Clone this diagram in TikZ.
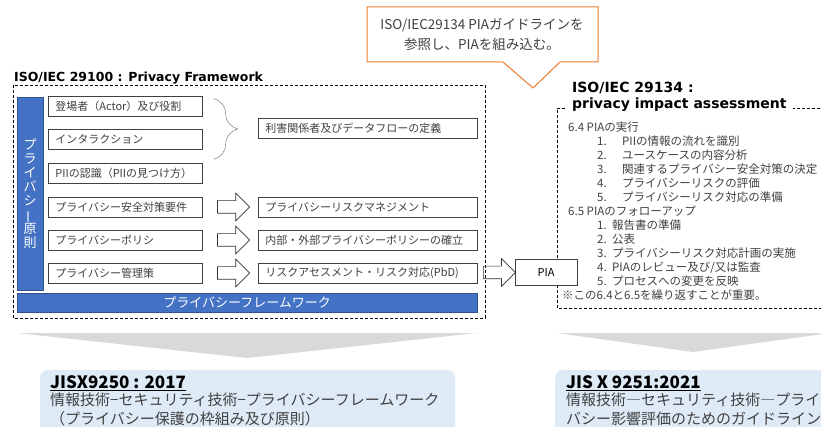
\documentclass[tikz,border=0pt]{standalone}
\usepackage{fontspec}
\setmainfont{Noto Sans CJK JP}
\newfontfamily\titlefont{DejaVu Sans}
\usetikzlibrary{calc,shapes.arrows,decorations.pathreplacing}
\definecolor{pblue}{HTML}{4472C4}
\definecolor{pbdark}{HTML}{2F528F}
\definecolor{porange}{HTML}{ED7D31}
\definecolor{plight}{HTML}{DEEBF7}
\definecolor{ptext}{HTML}{404040}
\newcommand{\lia}[2]{\hspace*{29pt}\makebox[25pt][l]{#1}#2}
\newcommand{\lib}[2]{\hspace*{29pt}\makebox[15pt][l]{#1}#2}
\tikzstyle{lb} = [rectangle,draw=black!75,line width=0.7pt,fill=white,anchor=west,minimum height=20pt,text width=140pt,align=left,inner xsep=7pt,inner ysep=0pt,text=ptext,font=\fontsize{11}{13}\selectfont]
\tikzstyle{rb} = [lb,text width=205pt]
\tikzstyle{ba} = [single arrow,draw=black!80,line width=0.7pt,fill=white,minimum height=32pt,inner xsep=0pt,inner ysep=6pt,single arrow head extend=7.5pt]
\tikzstyle{jt} = [anchor=west,inner sep=0pt,font=\bfseries\fontsize{17}{20}\selectfont]
\tikzstyle{jl} = [anchor=north west,inner sep=0pt,align=left,text=ptext,font=\fontsize{15}{19}\selectfont]

\begin{document}
\begin{tikzpicture}[x=1pt,y=-1pt]
  \useasboundingbox (0,0) rectangle (821,427);
  % ISO/IEC 29100
  \draw[densely dashed,line width=0.9pt] (13,85) rectangle (485,318);
  \node[anchor=west,inner sep=0pt,font=\titlefont\bfseries\fontsize{12.5}{14}\selectfont] (fw) at (14,78) {ISO/IEC 29100 : Privacy Framework};
  \node[fill=pblue,draw=pbdark,anchor=north west,minimum width=26pt,minimum height=193pt,inner sep=0pt,text=white,align=center,font=\fontsize{13}{14}\selectfont] (vb) at (17,97) {プ\\ラ\\イ\\バ\\シ\\\rotatebox[origin=c]{90}{ー}\\原\\則};
  \node[fill=pblue,draw=pbdark,anchor=north west,minimum width=460pt,minimum height=19pt,inner sep=0pt,text=white,font=\fontsize{13}{14}\selectfont] (hb) at (17,293) {プライバシーフレームワーク};
  \node[lb] (l1) at (48,106) {登場者（Actor）及び役割};
  \node[lb] (l2) at (48,139) {インタラクション};
  \node[lb] (l3) at (48,173) {PIIの認識（PIIの見つけ方）};
  \node[lb] (l4) at (48,207) {プライバシー安全対策要件};
  \node[lb] (l5) at (48,240) {プライバシーポリシ};
  \node[lb] (l6) at (48,273) {プライバシー管理策};
  \node[rb] (r0) at (258,128) {利害関係者及びデータフローの定義};
  \node[rb] (r1) at (258,207) {プライバシーリスクマネジメント};
  \node[rb] (r2) at (258,240) {内部・外部プライバシーポリシーの確立};
  \node[rb] (r3) at (258,273) {リスクアセスメント・リスク対応(PbD)};
  \draw[black!60,decorate,decoration={brace,amplitude=24pt}] ($(l1.north east)+(11,3)$) -- ($(l2.south east)+(11,10)$);
  \node[ba] (a1) at ($(l4.east)!0.5!(r1.west)$) {};
  \node[ba] (a2) at ($(l5.east)!0.5!(r2.west)$) {};
  \node[ba] (a3) at ($(l6.east)!0.5!(r3.west)$) {};
  % ISO/IEC 29134
  \draw[densely dashed,line width=0.9pt] (830,108) -| (557,308) -- (830,308);
  \node[fill=white,anchor=north west,align=left,inner xsep=6pt,inner ysep=3pt,font=\titlefont\bfseries\fontsize{14}{16}\selectfont] (pt) at (566,79) {ISO/IEC 29134 :\\privacy impact assessment};
  \node[draw=black!75,line width=0.7pt,fill=white,minimum width=62pt,minimum height=26pt,inner sep=0pt,font=\fontsize{11}{13}\selectfont] (pia) at (546,272) {PIA};
  \node[ba,fill=none] (a4) at ($(r3.east)!0.5!(pia.west)$) {};
  \node[anchor=north west,align=left,inner sep=0pt,text=ptext,font=\fontsize{11.5}{14}\selectfont] (ls) at (568,122) {6.4 PIAの実行\\
    \lia{1.}{PIIの情報の流れを識別}\\
    \lia{2.}{ユースケースの内容分析}\\
    \lia{3.}{関連するプライバシー安全対策の決定}\\
    \lia{4.}{プライバシーリスクの評価}\\
    \lia{5.}{プライバシーリスク対応の準備}\\
    6.5 PIAのフォローアップ\\
    \lib{1.}{報告書の準備}\\
    \lib{2.}{公表}\\
    \lib{3.}{プライバシーリスク対応計画の実施}\\
    \lib{4.}{PIAのレビュー及び/又は監査}\\
    \lib{5.}{プロセスへの変更を反映}\\
    \hspace*{-6pt}※この6.4と6.5を繰り返すことが重要。};
  % callout
  \draw[porange,fill=white,line width=1pt] (367,7) -- (598,7) -- (598,62) -- (560,62) -- (533,88) -- (503,62) -- (367,62) -- cycle;
  \node[align=center,text=ptext,font=\fontsize{13.5}{20}\selectfont] (co) at (482,35) {ISO/IEC29134 PIAガイドラインを\\参照し、PIAを組み込む。};
  % JIS
  \fill[black!15] (17,333) -- (477,333) -- (247,358) -- cycle;
  \fill[black!15] (557,333) -- (830,333) -- (693,352) -- cycle;
  \fill[plight,rounded corners=8pt] (40,370) rectangle (455,440);
  \fill[plight,rounded corners=8pt] (555,370) rectangle (840,440);
  \node[jt] (j1) at (50,383) {\underline{JISX9250 : 2017}};
  \node[jl] (j1a) at (50,393) {情報技術−セキュリティ技術−プライバシーフレームワーク\\（プライバシー保護の枠組み及び原則）};
  \node[jt] (j2) at (566,383) {\underline{JIS X 9251:2021}};
  \node[jl] (j2a) at (566,393) {情報技術―セキュリティ技術―プライ\\バシー影響評価のためのガイドライン};
\end{tikzpicture}
\end{document}
